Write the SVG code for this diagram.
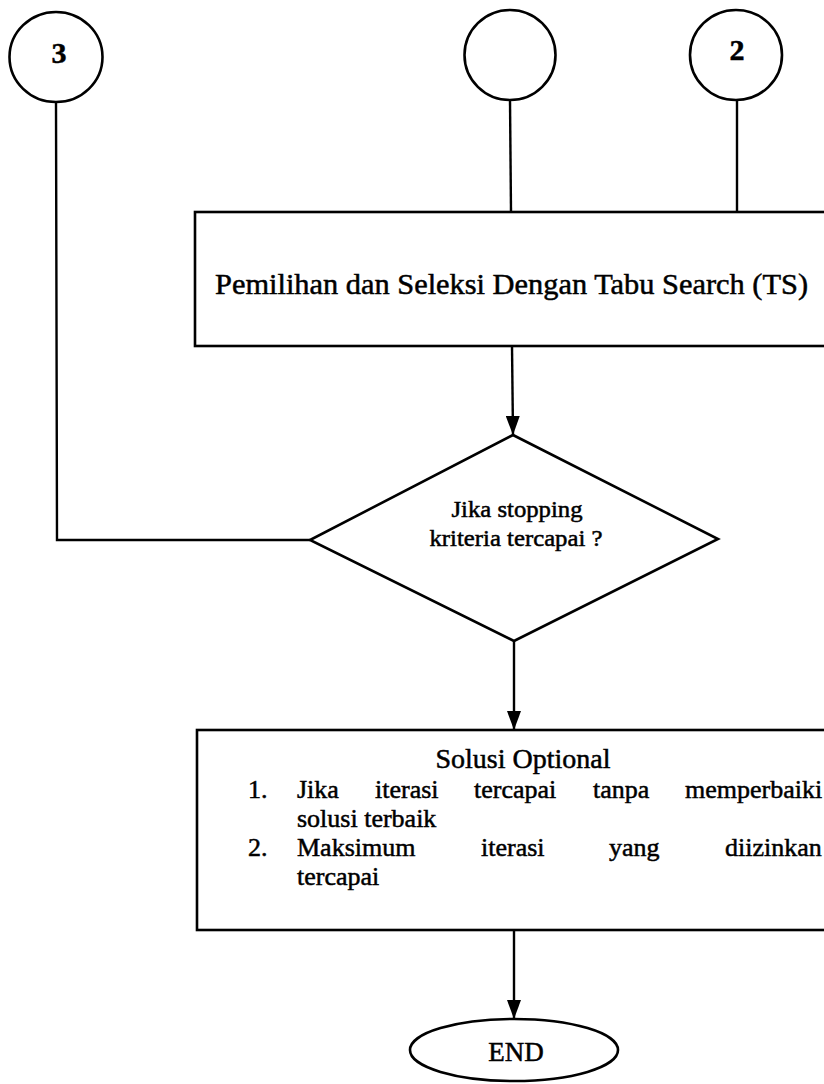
<svg xmlns="http://www.w3.org/2000/svg" width="824" height="1084" viewBox="0 0 824 1084">
  <style>
    .shape { fill: #ffffff; stroke: #000000; stroke-width: 2.6; }
    .wire { fill: none; stroke: #000000; stroke-width: 2.4; }
    .serif { font-family: "Liberation Serif", "Times New Roman", serif; fill: #000000; stroke: #000000; stroke-width: 0.5; }
    .num { font-size: 30px; font-weight: bold; text-anchor: middle; }
    .main { font-size: 30px; }
    .cond { font-size: 23px; text-anchor: middle; }
    .body { font-size: 26px; }
    .head { font-size: 28px; text-anchor: middle; }
    .end { font-size: 27px; text-anchor: middle; }
  </style>
  <defs>
    <!-- filled arrowhead, tip at the end of the line -->
    <marker id="arrowDown" markerUnits="userSpaceOnUse" markerWidth="20" markerHeight="14" refX="19" refY="7" orient="auto" viewBox="0 0 20 14">
      <path d="M0,0 L19,7 L0,14 Z" fill="#000000"/>
    </marker>
  </defs>

  <!-- connectors -->
  <g id="connectors">
    <!-- connector 3: loop back from the decision -->
    <path class="wire" d="M56,102 L57,540 L310,540"/>
    <!-- connector (unlabelled) into the TS box -->
    <path class="wire" d="M510,100 L511,212"/>
    <!-- connector 2 into the TS box -->
    <path class="wire" d="M737,100 L737,212"/>
    <!-- TS box to decision -->
    <path class="wire" d="M512,346 L513,435" marker-end="url(#arrowDown)"/>
    <!-- decision to result box -->
    <path class="wire" d="M514,641 L514,730" marker-end="url(#arrowDown)"/>
    <!-- result box to END -->
    <path class="wire" d="M514,930 L514,1019" marker-end="url(#arrowDown)"/>
  </g>

  <!-- off-page connectors -->
  <g id="node-conn-3">
    <ellipse class="shape" cx="56" cy="57" rx="46.5" ry="45"/>
    <text class="serif num" x="59" y="63">3</text>
  </g>
  <g id="node-conn-blank">
    <ellipse class="shape" cx="510" cy="55" rx="45.5" ry="45"/>
  </g>
  <g id="node-conn-2">
    <ellipse class="shape" cx="736" cy="55" rx="46" ry="45"/>
    <text class="serif num" x="737" y="60">2</text>
  </g>

  <!-- process: Tabu Search selection -->
  <g id="node-ts">
    <rect class="shape" x="195" y="212" width="650" height="134"/>
    <text class="serif main" x="215" y="294" textLength="593" lengthAdjust="spacingAndGlyphs">Pemilihan dan Seleksi Dengan Tabu Search (TS)</text>
  </g>

  <!-- decision -->
  <g id="node-decision">
    <polygon class="shape" points="513,435 718,539 514,641 310,540"/>
    <text class="serif cond" x="517" y="517" textLength="131" lengthAdjust="spacingAndGlyphs">Jika stopping</text>
    <text class="serif cond" x="516" y="546" textLength="173" lengthAdjust="spacingAndGlyphs">kriteria tercapai ?</text>
  </g>

  <!-- result box -->
  <g id="node-solution">
    <rect class="shape" x="197" y="730" width="650" height="200"/>
    <text class="serif head" x="523" y="768">Solusi Optional</text>
    <text class="serif body" y="798">
      <tspan x="248">1.</tspan>
      <tspan x="297">Jika</tspan>
      <tspan x="375">iterasi</tspan>
      <tspan x="474">tercapai</tspan>
      <tspan x="593">tanpa</tspan>
      <tspan x="685">memperbaiki</tspan>
    </text>
    <text class="serif body" x="297" y="827">solusi terbaik</text>
    <text class="serif body" y="856">
      <tspan x="248">2.</tspan>
      <tspan x="297">Maksimum</tspan>
      <tspan x="481">iterasi</tspan>
      <tspan x="609">yang</tspan>
      <tspan x="725">diizinkan</tspan>
    </text>
    <text class="serif body" x="297" y="885">tercapai</text>
  </g>

  <!-- terminator -->
  <g id="node-end">
    <ellipse class="shape" cx="514" cy="1050" rx="104" ry="31"/>
    <text class="serif end" x="516" y="1061">END</text>
  </g>
</svg>
